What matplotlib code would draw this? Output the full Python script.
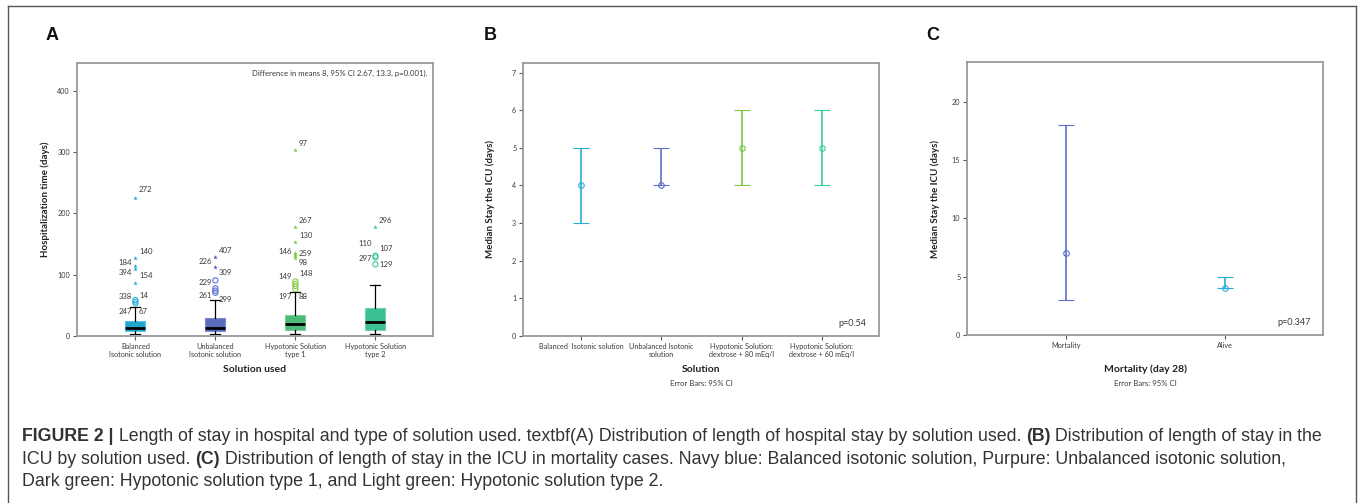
import matplotlib
matplotlib.use("Agg")
import matplotlib.pyplot as plt
from matplotlib.lines import Line2D

# ---------------- data ----------------
# Panel A: hospitalization time boxplots
a_categories = ["Balanced\nIsotonic solution", "Unbalanced\nIsotonic solution",
                "Hypotonic Solution\ntype 1", "Hypotonic Solution\ntype 2"]
a_whislo = [3, 3, 3, 3]
a_q1 = [7.6, 7.6, 10.3, 9.8]
a_med = [12.5, 13.6, 19, 22.3]
a_q3 = [24, 30, 34.7, 45]
a_whishi = [46.7, 59, 72.3, 83.7]
a_extremes = [[225, 126.6, 114.6, 108.6, 87],
              [129, 112],
              [303.7, 178, 152.7, 135.8, 133, 130.4, 127],
              [178]]
a_outliers = [[58.7, 56, 53],
              [90.7, 77.7, 73.9, 70.6],
              [89, 85, 81.5, 76.6],
              [131, 128.2, 116.8]]
# case labels: (text, value at label, side: +1 right / -1 left)
a_case_labels = [
    [("272", 238, 1), ("140", 138.5, 1), ("184", 119, -1), ("394", 102.7, -1),
     ("154", 98.9, 1), ("338", 65.2, -1), ("14", 66.3, 1), ("247", 40.2, -1), ("67", 40.2, 1)],
    [("407", 140, 1), ("226", 122, -1), ("309", 102.7, 1), ("229", 86.4, -1),
     ("261", 66.3, -1), ("299", 60.3, 1)],
    [("97", 314, 1), ("267", 189, 1), ("130", 164, 1), ("146", 137, -1), ("259", 134, 1),
     ("98", 119.5, 1), ("149", 97.3, -1), ("148", 101.6, 1), ("197", 65.2, -1), ("88", 65.2, 1)],
    [("296", 189, 1), ("110", 151, -1), ("107", 143, 1), ("297", 126.6, -1), ("129", 116.3, 1)],
]
a_yticks = [0, 100, 200, 300, 400]

# Panel B: median ICU stay with 95% CI
b_categories = ["Balanced  Isotonic solution", "Unbalanced Isotonic\nsolution",
                "Hypotonic Solution:\ndextrose + 80 mEq/l", "Hypotonic Solution:\ndextrose + 60 mEq/l"]
b_median = [4, 4, 5, 5]
b_low = [3, 4, 4, 4]
b_high = [5, 5, 6, 6]
b_yticks = [0, 1, 2, 3, 4, 5, 6, 7]

# Panel C: median ICU stay by mortality
c_categories = ["Mortality", "Alive"]
c_median = [7, 4]
c_low = [3, 4]
c_high = [18, 5]
c_yticks = [0, 5, 10, 15, 20]

# ---------------- styling ----------------
box_fill = ["#1ea6cc", "#5b6abd", "#4cbb78", "#3bbf95"]
box_edge = ["#5cc4e2", "#7f8bd0", "#7fd09c", "#73d3b2"]
star_col = ["#1fa9d2", "#4656c0", "#7ec63f", "#35c495"]
circ_col = ["#2fb3db", "#5d70d2", "#8ccb4c", "#3cc99b"]
b_cols = ["#27abd4", "#5d6ecc", "#7ec544", "#3fcb9c"]
c_cols = ["#5d6ecc", "#27abd4"]

FONT = "Lato"
TXT = "#3a3a3a"
SPINE = "#9a9a9a"
TICK_FS = 5.2
plt.rcParams["font.family"] = [FONT, "DejaVu Sans"]

W, H = 1360, 503
fig = plt.figure(figsize=(W / 100, H / 100), dpi=100)


def px_axes(l, t, r, b):
    return fig.add_axes([l / W, 1 - b / H, (r - l) / W, (b - t) / H])


def style_axes(ax):
    for s in ax.spines.values():
        s.set_color(SPINE)
        s.set_linewidth(1.3)
    ax.tick_params(axis="both", length=3, width=0.8, color="#555555",
                   labelsize=TICK_FS, labelcolor=TXT, pad=2)


def labels(ax, xlabel, ylabel, ylab_x, xlab_y):
    ax.text(ylab_x, 0.5, ylabel, transform=ax.transAxes, rotation=90, ha="center", va="center",
            fontsize=7, fontweight="bold", color="#222222")
    ax.text(0.5, xlab_y, xlabel, transform=ax.transAxes, ha="center", va="center",
            fontsize=7.5, fontweight="bold", color="#222222")


# ---------------- Panel A ----------------
axA = px_axes(77, 63, 433, 336)
style_axes(axA)
stats = []
for i in range(4):
    stats.append(dict(med=a_med[i], q1=a_q1[i], q3=a_q3[i],
                      whislo=a_whislo[i], whishi=a_whishi[i], fliers=[]))
xs = list(range(4))
bp = axA.bxp(stats, positions=xs, widths=0.25, patch_artist=True, showfliers=False,
             boxprops=dict(linewidth=0.8),
             medianprops=dict(color="black", linewidth=2.0),
             whiskerprops=dict(color="black", linewidth=0.9),
             capprops=dict(color="black", linewidth=0.9), capwidths=0.125)
for i, patch in enumerate(bp["boxes"]):
    patch.set_facecolor(box_fill[i])
    patch.set_edgecolor(box_edge[i])
for i in range(4):
    axA.scatter([xs[i]] * len(a_extremes[i]), a_extremes[i], marker="*", s=12,
                color=star_col[i], linewidths=0, zorder=4)
    axA.scatter([xs[i]] * len(a_outliers[i]), a_outliers[i], marker="o", s=14,
                facecolors="none", edgecolors=circ_col[i], linewidths=0.8, zorder=4)
    for txt, val, side in a_case_labels[i]:
        axA.annotate(txt, (xs[i], val), xytext=(side * 2.6, 0), textcoords="offset points",
                     ha="left" if side > 0 else "right", va="center",
                     fontsize=5.6, color=TXT)
axA.set_xlim(-0.73, 3.72)
axA.set_ylim(0, 445)
axA.set_yticks(a_yticks)
axA.set_xticks(xs)
axA.set_xticklabels(a_categories, linespacing=1.25)
labels(axA, "Solution used", "Hospitalization time (days)", (45 - 77) / 356, (336 - 370) / 273)
axA.text(0.985, 0.975, "Difference in means 8, 95% CI 2.67, 13.3, p=0.001).",
         transform=axA.transAxes, ha="right", va="top", fontsize=5.6, color=TXT)

# ---------------- Panel B ----------------
axB = px_axes(523.3, 62.7, 879, 335.7)
style_axes(axB)
for i in range(4):
    axB.errorbar([i], [b_median[i]], yerr=[[b_median[i] - b_low[i]], [b_high[i] - b_median[i]]],
                 fmt="o", color=b_cols[i], mfc="none", mec=b_cols[i], ms=4, mew=0.8,
                 elinewidth=1.2, capsize=6, capthick=1.2)
axB.set_xlim(-0.724, 3.715)
axB.set_ylim(0, 7.27)
axB.set_yticks(b_yticks)
axB.set_xticks(range(4))
axB.set_xticklabels(b_categories, linespacing=1.25)
labels(axB, "Solution", "Median Stay the ICU (days)", (490.7 - 523.3) / 355.7, (335.7 - 370) / 273)
axB.text(0.965, 0.03, "p=0.54", transform=axB.transAxes, ha="right", va="bottom",
         fontsize=6.5, color=TXT)

# ---------------- Panel C ----------------
axC = px_axes(967.3, 62, 1323.3, 335)
style_axes(axC)
for i in range(2):
    axC.errorbar([i], [c_median[i]], yerr=[[c_median[i] - c_low[i]], [c_high[i] - c_median[i]]],
                 fmt="o", color=c_cols[i], mfc="none", mec=c_cols[i], ms=4, mew=0.8,
                 elinewidth=1.2, capsize=6, capthick=1.2)
axC.set_xlim(-0.62, 1.618)
axC.set_ylim(0, 23.4)
axC.set_yticks(c_yticks)
axC.set_xticks(range(2))
axC.set_xticklabels(c_categories)
labels(axC, "Mortality (day 28)", "Median Stay the ICU (days)", (935 - 967.3) / 356, (335 - 369) / 273)
axC.text(0.965, 0.03, "p=0.347", transform=axC.transAxes, ha="right", va="bottom",
         fontsize=6.5, color=TXT)

# Error bar notes
for ax in (axB, axC):
    cx = (ax.get_position().x0 + ax.get_position().x1) / 2
    fig.text(cx, 1 - 384 / H, "Error Bars: 95% CI", ha="center", va="center",
             fontsize=5.6, color=TXT)

# Panel letters
for letter, x in (("A", 52), ("B", 490), ("C", 933)):
    fig.text(x / W, 1 - 35 / H, letter, ha="center", va="center", fontsize=13,
             fontweight="bold", family=["Liberation Sans", "DejaVu Sans"], color="#111111")

# Frame around figure
for (x0, y0, x1, y1) in ((8, 6, 1355.5, 6), (8, 6, 8, 503), (1355.5, 6, 1355.5, 503)):
    fig.add_artist(Line2D([x0 / W, x1 / W], [1 - y0 / H, 1 - y1 / H], color="#555555",
                          linewidth=1.0, transform=fig.transFigure))

# Caption with mixed weights
cap_lines = [
    [("FIGURE 2 |", "bold"), (" Length of stay in hospital and type of solution used. textbf(A) "
     "Distribution of length of hospital stay by solution used. ", "normal"), ("(B)", "bold"),
     (" Distribution of length of stay in the", "normal")],
    [("ICU by solution used. ", "normal"), ("(C)", "bold"),
     (" Distribution of length of stay in the ICU in mortality cases. Navy blue: Balanced isotonic "
      "solution, Purpure: Unbalanced isotonic solution,", "normal")],
    [("Dark green: Hypotonic solution type 1, and Light green: Hypotonic solution type 2.", "normal")],
]
cap_y = [436.5, 459, 481.5]
renderer = fig.canvas.get_renderer()
for runs, yy in zip(cap_lines, cap_y):
    x = 22 / W
    for txt, wt in runs:
        t = fig.text(x, 1 - yy / H, txt, fontsize=12.8, fontweight=wt, va="center", ha="left",
                     family=["Liberation Sans", "DejaVu Sans"], color="#333333")
        bb = t.get_window_extent(renderer)
        x += bb.width / W

fig.savefig("out.png", dpi=100)
